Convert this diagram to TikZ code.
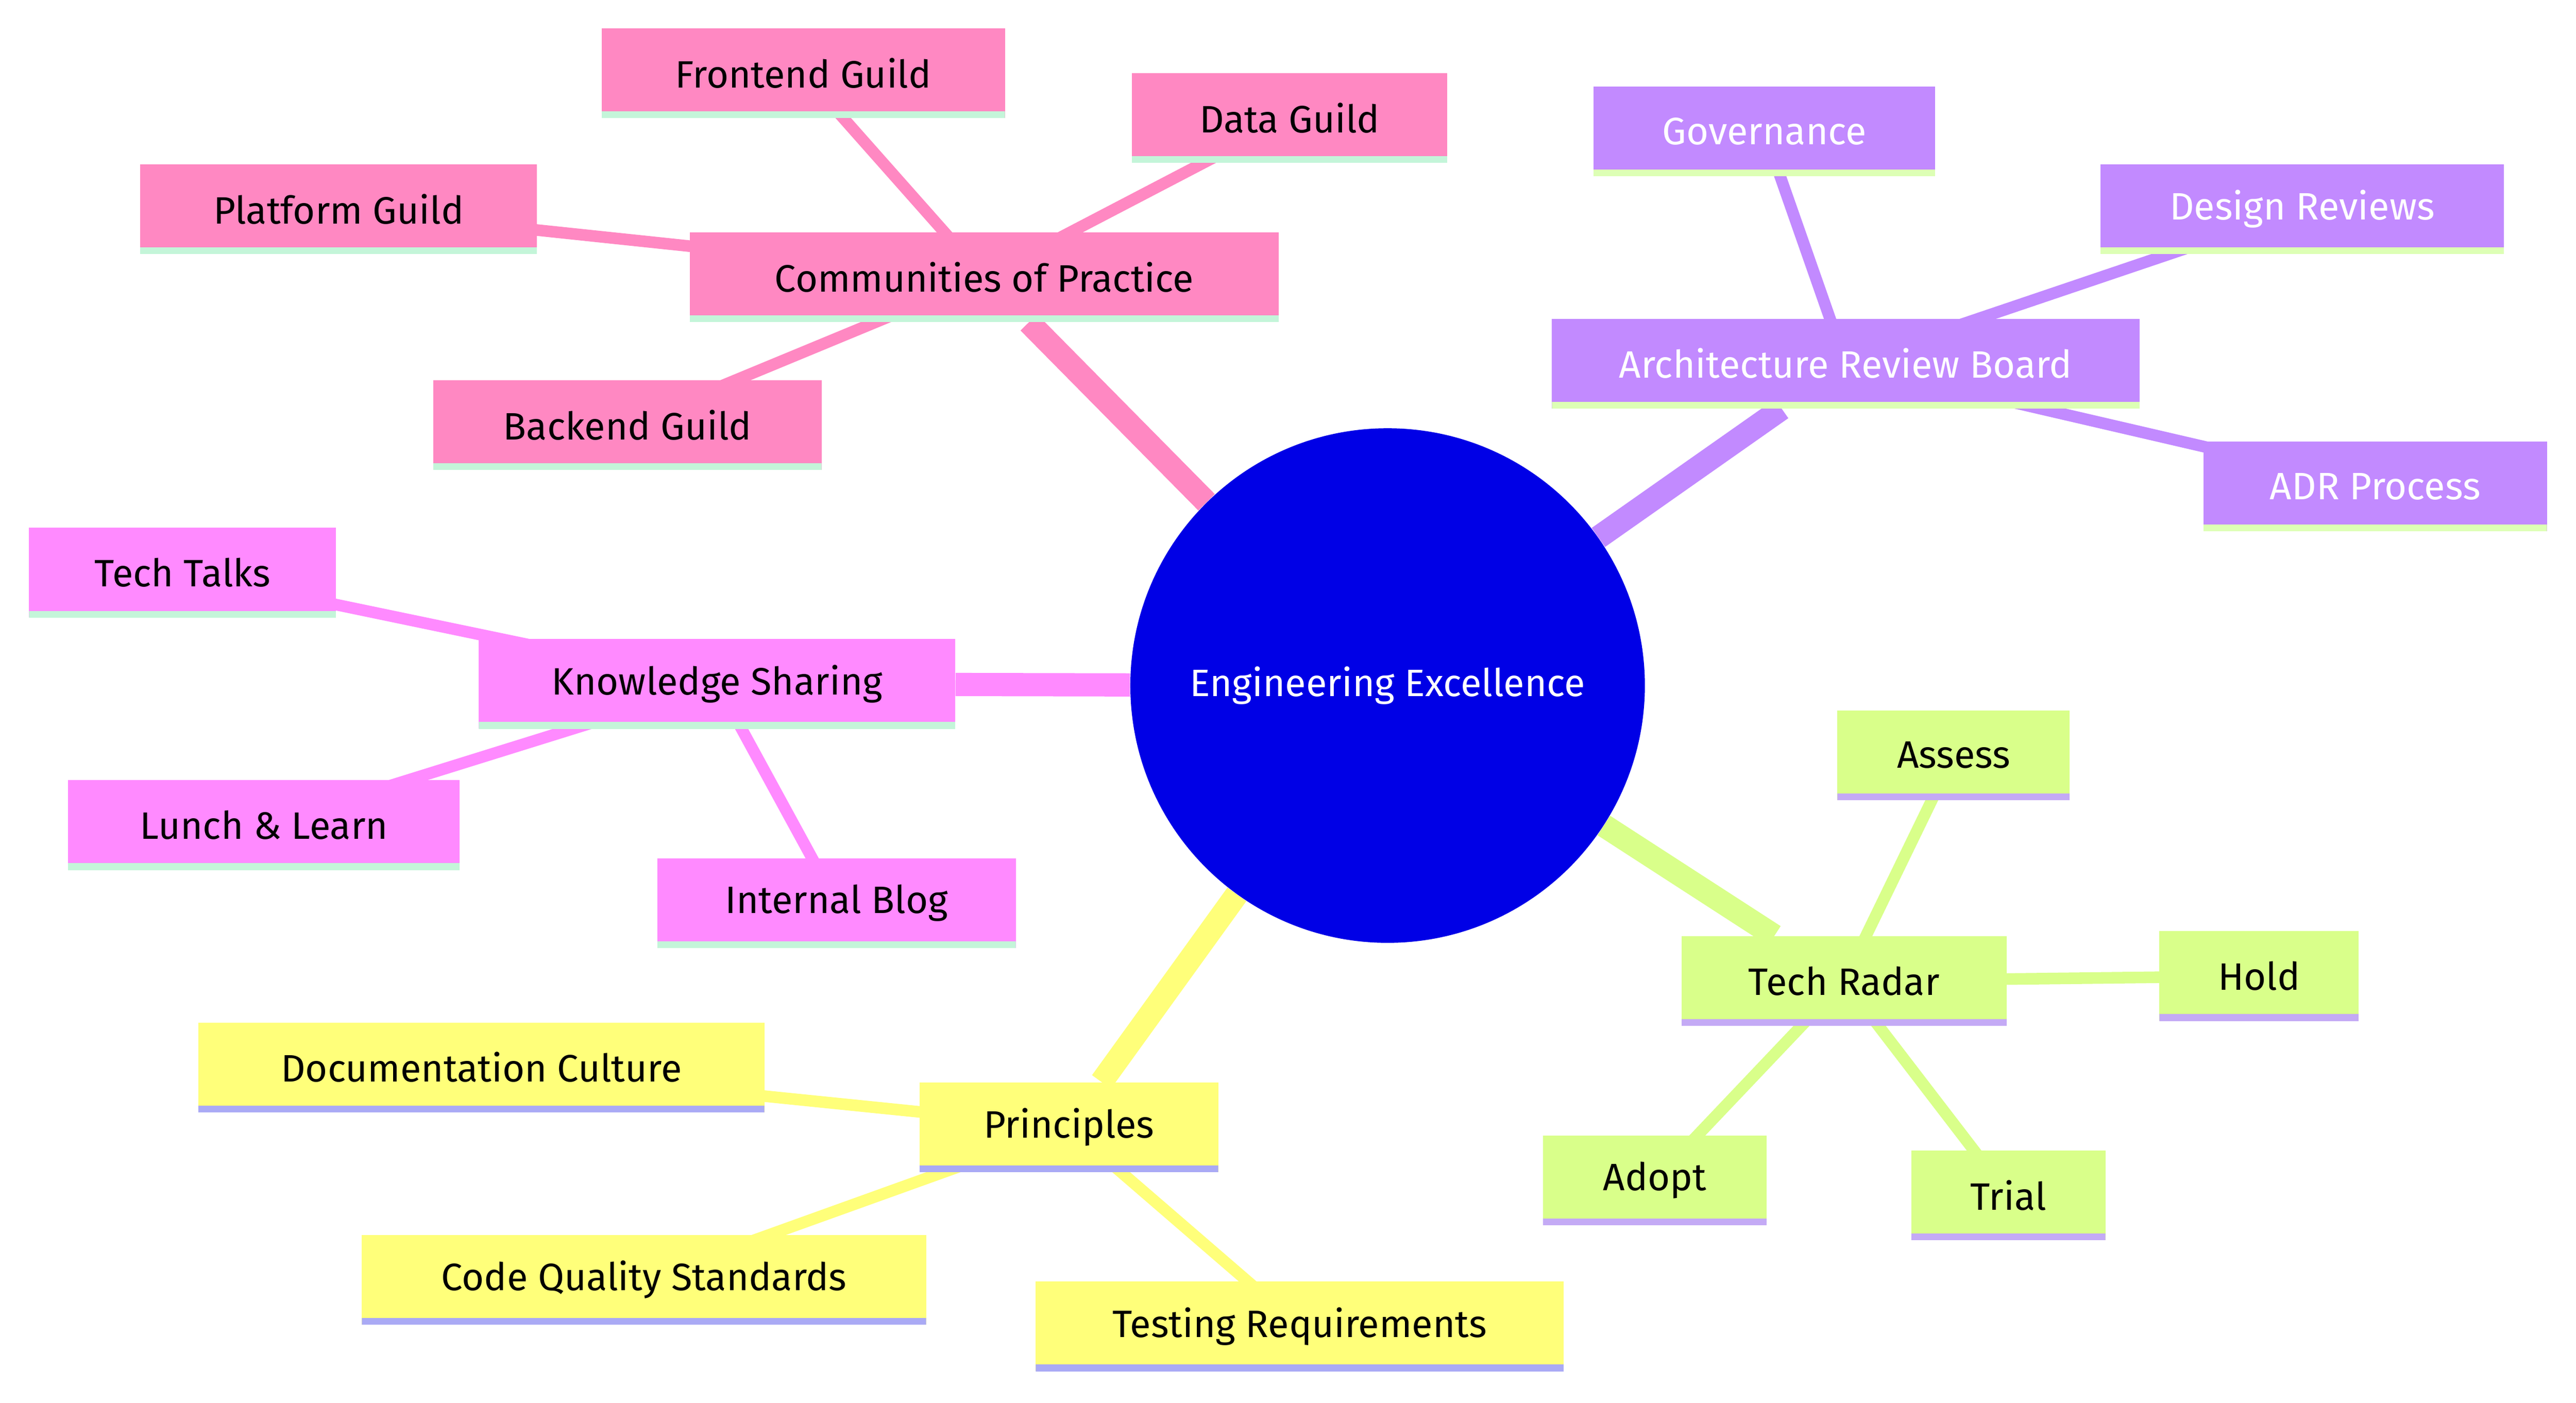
\documentclass[tikz,border=0pt]{standalone}
\usepackage{fontspec}
\setmainfont{Fira Sans}
\usetikzlibrary{backgrounds}
\definecolor{cpink}{HTML}{FF88C2}
\definecolor{cpur}{HTML}{C28AFF}
\definecolor{cmag}{HTML}{FF8AFF}
\definecolor{cyel}{HTML}{FFFF7A}
\definecolor{clime}{HTML}{D9FF8A}
\definecolor{lgreen}{HTML}{C4F5D9}
\definecolor{lyg}{HTML}{DDFFB5}
\definecolor{peri}{HTML}{AAAAF5}
\definecolor{lav}{HTML}{C4AAF5}
\begin{document}
\begin{tikzpicture}[x=1pt,y=-1pt,
  box/.style n args={2}{draw=none,fill=#1,minimum height=54pt,inner sep=0pt,font=\fontsize{23}{27}\selectfont,
    path picture={\draw[line width=8pt,#2] (path picture bounding box.south west) -- (path picture bounding box.south east);}},
  br/.style={line width=14pt},
  ch/.style={line width=7pt}]
\useasboundingbox (0,0) rectangle (1552,845);
\node[circle,fill={rgb,255:red,0;green,0;blue,230},minimum size=310pt,text=white,font=\fontsize{23}{27}\selectfont] (c) at (836,413) {Engineering Excellence};
% pink
\node[box={cpink}{lgreen},minimum width=355pt] (cop) at (593,167) {Communities of Practice};
\node[box={cpink}{lgreen},minimum width=243pt] (fg) at (484,44) {Frontend Guild};
\node[box={cpink}{lgreen},minimum width=190pt] (dg) at (777,71) {Data Guild};
\node[box={cpink}{lgreen},minimum width=239pt] (pg) at (204,126) {Platform Guild};
\node[box={cpink}{lgreen},minimum width=234pt] (bg) at (378,256) {Backend Guild};
% purple
\node[box={cpur}{lyg},minimum width=354pt,text=white] (arb) at (1112,219) {Architecture Review Board};
\node[box={cpur}{lyg},minimum width=206pt,text=white] (gov) at (1063,79) {Governance};
\node[box={cpur}{lyg},minimum width=243pt,text=white] (dr) at (1387,126) {Design Reviews};
\node[box={cpur}{lyg},minimum width=207pt,text=white] (adr) at (1431,293) {ADR Process};
% magenta
\node[box={cmag}{lgreen},minimum width=287pt] (ks) at (432,412) {Knowledge Sharing};
\node[box={cmag}{lgreen},minimum width=185pt] (tt) at (110,345) {Tech Talks};
\node[box={cmag}{lgreen},minimum width=236pt] (ll) at (159,497) {Lunch \& Learn};
\node[box={cmag}{lgreen},minimum width=216pt] (ib) at (504,544) {Internal Blog};
% yellow
\node[box={cyel}{peri},minimum width=180pt] (pr) at (644,679) {Principles};
\node[box={cyel}{peri},minimum width=341pt] (dc) at (290,643) {Documentation Culture};
\node[box={cyel}{peri},minimum width=340pt] (cq) at (388,771) {Code Quality Standards};
\node[box={cyel}{peri},minimum width=318pt] (tr) at (783,799) {Testing Requirements};
% lime
\node[box={clime}{lav},minimum width=196pt] (rad) at (1111,591) {Tech Radar};
\node[box={clime}{lav},minimum width=140pt] (as) at (1177,455) {Assess};
\node[box={clime}{lav},minimum width=120pt] (ho) at (1361,588) {Hold};
\node[box={clime}{lav},minimum width=135pt] (ad) at (997,711) {Adopt};
\node[box={clime}{lav},minimum width=117pt] (tri) at (1210,720) {Trial};
\begin{pgfonlayer}{background}
\draw[br,cpink] (c) -- (cop);
\draw[ch,cpink] (cop.center) -- (fg.center);
\draw[ch,cpink] (cop.center) -- (dg.center);
\draw[ch,cpink] (cop.center) -- (pg.center);
\draw[ch,cpink] (cop.center) -- (bg.center);
\draw[br,cpur] (c) -- (arb);
\draw[ch,cpur] (arb.center) -- (gov.center);
\draw[ch,cpur] (arb.center) -- (dr.center);
\draw[ch,cpur] (arb.center) -- (adr.center);
\draw[br,cmag] (c) -- (ks);
\draw[ch,cmag] (ks.center) -- (tt.center);
\draw[ch,cmag] (ks.center) -- (ll.center);
\draw[ch,cmag] (ks.center) -- (ib.center);
\draw[br,cyel] (c) -- (pr);
\draw[ch,cyel] (pr.center) -- (dc.center);
\draw[ch,cyel] (pr.center) -- (cq.center);
\draw[ch,cyel] (pr.center) -- (tr.center);
\draw[br,clime] (c) -- (rad);
\draw[ch,clime] (rad.center) -- (as.center);
\draw[ch,clime] (rad.center) -- (ho.center);
\draw[ch,clime] (rad.center) -- (ad.center);
\draw[ch,clime] (rad.center) -- (tri.center);
\end{pgfonlayer}
\end{tikzpicture}
\end{document}
